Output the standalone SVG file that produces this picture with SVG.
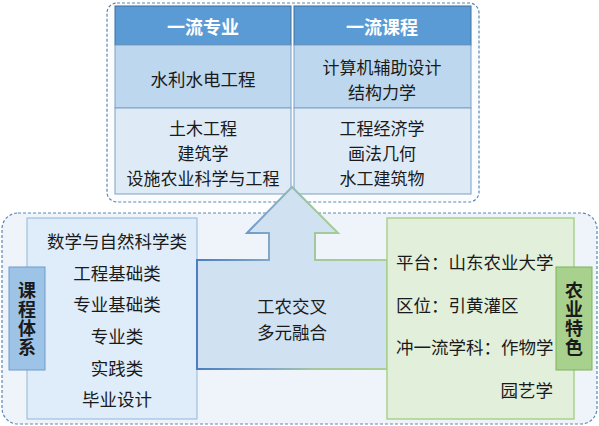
<svg xmlns="http://www.w3.org/2000/svg" width="599" height="426" viewBox="0 0 599 426">
  <defs>
    <linearGradient id="edge" gradientUnits="userSpaceOnUse" x1="197" y1="0" x2="387" y2="0">
      <stop offset="0" stop-color="#4A7EC0"/>
      <stop offset="0.4" stop-color="#85A9C9"/>
      <stop offset="0.62" stop-color="#A3C89C"/>
      <stop offset="1" stop-color="#A9D18E"/>
    </linearGradient>
  </defs>
  <style>
    text { font-family: "Noto Sans CJK SC", "Noto Sans", sans-serif; fill: #1a1a1a; dominant-baseline: central; }
    .t { font-size: 17.5px; text-anchor: middle; }
    .tm { font-size: 17px; text-anchor: middle; }
    .tl { font-size: 17.5px; text-anchor: start; }
    .tr { font-size: 17.5px; text-anchor: end; }
    .hd { font-size: 18px; font-weight: bold; fill: #ffffff; text-anchor: middle; }
    .lb { font-size: 18px; font-weight: bold; text-anchor: middle; writing-mode: vertical-rl; letter-spacing: 1px; }
    .dash { stroke: #5B87B5; stroke-width: 1.2; stroke-dasharray: 3 2; }
    .head { fill: #5B9BD5; stroke: #41719C; stroke-width: 1; }
    .r2 { fill: #BDD7EE; stroke: #7F9FC6; stroke-width: 1; }
    .r3 { fill: #DEEBF7; stroke: #7F9FC6; stroke-width: 1; }
  </style>

  <g id="bottom-container">
    <rect x="2" y="213" width="595" height="211" rx="16" fill="#EEF4FA" class="dash"/>
  </g>

  <g id="top-container">
    <rect x="107" y="3" width="372" height="199" rx="10" fill="#FAFCFE" class="dash"/>
  </g>

  <g id="col-major">
    <rect x="115" y="6" width="176" height="39" class="head"/>
    <rect x="115" y="45" width="176" height="63" class="r2"/>
    <rect x="115" y="108" width="176" height="86" class="r3"/>
    <text class="hd" x="203" y="26">一流专业</text>
    <text class="t" x="203" y="78">水利水电工程</text>
    <text class="tm" x="203" y="127.3">土木工程<tspan x="203" dy="24.7">建筑学</tspan><tspan x="203" dy="24.7">设施农业科学与工程</tspan></text>
  </g>

  <g id="col-course">
    <rect x="294" y="6" width="177" height="39" class="head"/>
    <rect x="294" y="45" width="177" height="63" class="r2"/>
    <rect x="294" y="108" width="177" height="86" class="r3"/>
    <text class="hd" x="382" y="26">一流课程</text>
    <text class="tm" x="382" y="66.7">计算机辅助设计<tspan x="382" dy="24.7">结构力学</tspan></text>
    <text class="tm" x="382" y="127.3">工程经济学<tspan x="382" dy="24.7">画法几何</tspan><tspan x="382" dy="24.7">水工建筑物</tspan></text>
  </g>

  <g id="curriculum">
    <rect x="27" y="218" width="170" height="201" fill="#DFEDFA" stroke="#93B5D6" stroke-width="1"/>
    <text class="t" x="117" y="240">数学与自然科学类</text>
    <text class="t" x="117" y="272">工程基础类</text>
    <text class="t" x="117" y="303">专业基础类</text>
    <text class="t" x="117" y="335">专业类</text>
    <text class="t" x="117" y="367">实践类</text>
    <text class="t" x="117" y="398">毕业设计</text>
  </g>

  <g id="connectors"></g>

  <g id="fusion">
    <path d="M197,260 L269,260 L269,233 L247,233 L292,187 L338,233 L315,233 L315,260 L387,260 L387,369 L197,369 Z" fill="#D0E1F2" stroke="url(#edge)" stroke-width="2" stroke-linejoin="miter"/>
    <text class="t" x="292" y="305">工农交叉<tspan x="292" dy="25.5">多元融合</tspan></text>
  </g>

  <g id="agri">
    <rect x="387" y="218" width="187" height="201" fill="#E2EFDA" stroke="#A9D18E" stroke-width="1.5"/>
    <text class="tl" x="396" y="261">平台：山东农业大学</text>
    <text class="tl" x="396" y="304">区位：引黄灌区</text>
    <text class="tl" x="396" y="346">冲一流学科：作物学</text>
    <text class="tr" x="553" y="389">园艺学</text>
  </g>

  <g id="label-curriculum">
    <rect x="9" y="267" width="36" height="103" fill="#9DC3E6" stroke="#6E9BCB" stroke-width="1"/>
    <text class="lb" x="27" y="319">课程体系</text>
  </g>

  <g id="label-agri">
    <rect x="556" y="267" width="36" height="103" fill="#A9D18E" stroke="#7DB35A" stroke-width="1"/>
    <text class="lb" x="574" y="319">农业特色</text>
  </g>
</svg>
